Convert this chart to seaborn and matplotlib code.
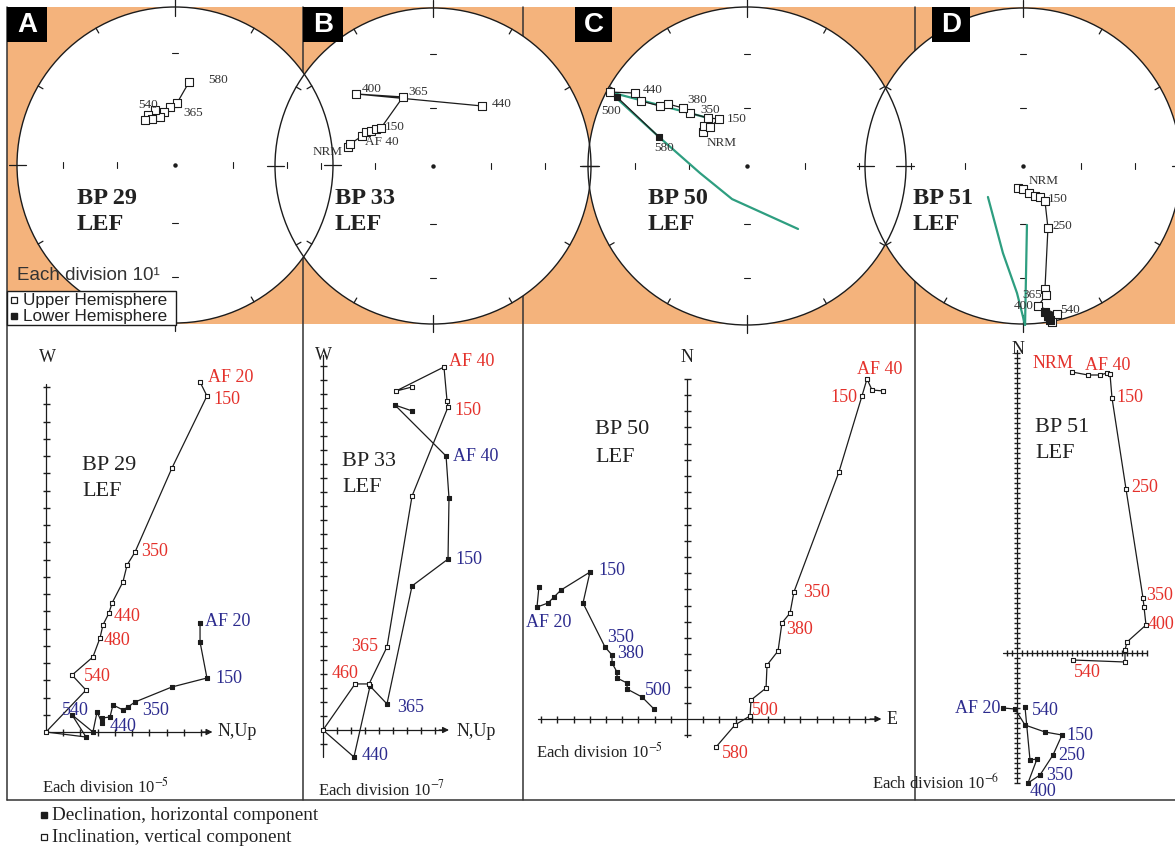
import numpy as np
import pandas as pd
import matplotlib
matplotlib.use("Agg")
import matplotlib.pyplot as plt
import seaborn as sns
from matplotlib.patches import Circle, Rectangle

# ---------------------------------------------------------------- DATA
# Stereonets (equal-area projection), coordinates in units of net radius (east, north)
netA_x = [0.089, 0.013, -0.032, -0.070, -0.095, -0.127, -0.171, -0.146, -0.190]
netA_y = [0.525, 0.392, 0.367, 0.335, 0.304, 0.348, 0.316, 0.291, 0.285]
netA_lab = ["580", "365", "", "", "", "540", "", "", ""]

netB_x = [-0.538, -0.525, -0.449, -0.424, -0.392, -0.361, -0.329, -0.190, -0.487, 0.310]
netB_y = [0.120, 0.139, 0.190, 0.215, 0.222, 0.234, 0.241, 0.437, 0.456, 0.380]
netB_lab = ["NRM", "", "AF 40", "", "", "", "150", "365", "400", "440"]

netC_up_x = [-0.277, -0.270, -0.233, -0.176, -0.245, -0.358, -0.403, -0.497, -0.547, -0.667, -0.704, -0.862]
netC_up_y = [0.214, 0.252, 0.245, 0.296, 0.302, 0.333, 0.365, 0.390, 0.377, 0.409, 0.459, 0.465]
netC_up_lab = ["NRM", "", "", "150", "350", "", "380", "", "", "", "440", "500"]
netC_lo_x = [-0.818, -0.553]
netC_lo_y = [0.434, 0.182]
netC_lo_lab = ["", "580"]
netC_g1_x = [-0.862, -0.245]
netC_g1_y = [0.465, 0.302]
netC_g2_x = [-0.862, -0.553, -0.296, -0.094, 0.321]
netC_g2_y = [0.465, 0.182, -0.044, -0.208, -0.396]

netD_up_x = [-0.032, 0.000, 0.038, 0.076, 0.108, 0.139, 0.158, 0.139, 0.146, 0.095, 0.215, 0.184]
netD_up_y = [-0.139, -0.146, -0.171, -0.190, -0.196, -0.222, -0.392, -0.778, -0.816, -0.886, -0.937, -0.987]
netD_up_lab = ["NRM", "", "", "", "", "150", "250", "365", "", "400", "540", ""]
netD_lo_x = [0.139, 0.158, 0.171]
netD_lo_y = [-0.924, -0.949, -0.975]
netD_g1_x = [-0.222, -0.127, -0.038, 0.013]
netD_g1_y = [-0.196, -0.551, -0.804, -1.006]
netD_g2_x = [0.025, 0.013]
netD_g2_y = [-0.373, -1.006]

# Zijderveld diagrams, in divisions
A_open_x = [8.93, 9.33, 7.30, 5.16, 4.70, 4.46, 3.83, 3.65, 3.30, 3.13, 2.72, 1.51, 2.32, 0.00]
A_open_y = [20.29, 19.48, 15.30, 10.43, 9.68, 8.70, 7.48, 6.90, 6.20, 5.45, 4.35, 3.30, 2.43, 0.00]
A_open_lab = ["AF 20", "150", "", "350", "", "", "", "440", "", "480", "", "540", "", ""]
A_fill_x = [8.93, 8.93, 9.33, 7.30, 5.16, 4.75, 4.46, 3.88, 3.71, 3.25, 3.25, 2.96, 2.72, 1.51, 2.32, 0.00]
A_fill_y = [6.32, 5.22, 3.13, 2.61, 1.74, 1.45, 1.28, 1.57, 0.87, 0.81, 0.52, 1.16, 0.00, 0.99, -0.29, 0.00]
A_fill_lab = ["AF 20", "", "150", "", "", "350", "", "", "", "", "440", "", "", "540", "", ""]

B_open_x = [6.36, 5.21, 8.64, 8.86, 8.93, 6.36, 4.57, 3.29, 2.29, 0.00]
B_open_y = [24.50, 24.21, 25.93, 23.50, 23.07, 16.71, 5.93, 3.29, 3.29, 0.00]
B_open_lab = ["", "", "AF 40", "", "150", "", "365", "", "460", ""]
B_fill_x = [6.36, 5.14, 8.79, 9.00, 8.93, 6.36, 4.57, 3.36, 2.21, 0.00]
B_fill_y = [22.79, 23.21, 19.57, 16.57, 12.21, 10.29, 1.86, 3.14, -1.93, 0.00]
B_fill_lab = ["", "", "AF 40", "", "150", "", "365", "", "440", ""]

C_open_x = [12.10, 11.42, 11.11, 10.80, 9.38, 6.60, 6.36, 5.86, 5.62, 4.94, 4.88, 3.95, 3.89, 2.96, 1.79]
C_open_y = [20.25, 20.31, 20.99, 19.94, 15.25, 7.84, 6.54, 5.93, 4.20, 3.33, 1.91, 1.17, 0.19, -0.37, -1.73]
C_open_lab = ["", "", "AF 40", "150", "", "350", "", "380", "", "", "", "", "500", "", "580"]
C_fill_x = [-9.14, -9.26, -8.58, -8.21, -7.78, -5.99, -6.42, -5.06, -4.63, -4.63, -4.32, -4.32, -3.70, -3.70, -2.78, -2.04]
C_fill_y = [8.15, 6.91, 7.16, 7.53, 7.96, 9.07, 7.16, 4.44, 3.95, 3.46, 2.90, 2.53, 2.22, 1.85, 1.36, 0.62]
C_fill_lab = ["", "AF 20", "", "", "", "150", "", "350", "", "380", "", "", "", "", "500", ""]

D_open_x = [11.0, 14.2, 16.6, 18.0, 18.6, 19.0, 21.8, 25.2, 25.4, 25.8, 22.0, 21.6, 21.6, 11.2]
D_open_y = [56.2, 55.6, 55.6, 56.0, 55.8, 51.0, 32.8, 11.0, 9.2, 5.6, 2.2, 0.6, -1.8, -1.4]
D_open_lab = ["NRM", "", "", "AF 40", "", "150", "250", "350", "", "400", "", "", "", "540"]
D_fill_x = [-2.8, -0.4, 1.6, 5.6, 9.0, 7.2, 4.6, 2.2, 4.0, 2.6, 1.6]
D_fill_y = [-11.0, -11.2, -14.4, -15.8, -16.4, -20.4, -24.4, -26.0, -21.2, -21.4, -10.8]
D_fill_lab = ["AF 20", "", "", "", "150", "250", "350", "400", "", "", "540"]

panel_letters = ["A", "B", "C", "D"]
sample_names = ["BP 29", "BP 33", "BP 50", "BP 51"]
site_name = "LEF"
division_exp = ["-5", "-7", "-5", "-6"]

# ---------------------------------------------------------------- STYLE / LAYOUT
sns.set_theme(style="white")
plt.rcParams["font.family"] = ["Liberation Serif", "DejaVu Serif"]
plt.rcParams["mathtext.fontset"] = "stix"

W, H = 1175, 848
ORANGE = "#F4B37C"
RED = "#E4312B"
BLUE = "#2C2B8E"
GREEN = "#2E9E80"
INK = "#1c1c1c"
SANS = ["Liberation Sans", "DejaVu Sans"]

fig = plt.figure(figsize=(W / 100, H / 100), dpi=100)


def px_rect(x0, y0, x1, y1):
    return [x0 / W, 1 - y1 / H, (x1 - x0) / W, (y1 - y0) / H]


def pixel_axes(z):
    ax = fig.add_axes([0, 0, 1, 1], zorder=z)
    ax.set_xlim(0, W)
    ax.set_ylim(H, 0)
    ax.axis("off")
    return ax


def path(ax, x, y, color=INK, lw=0.9, z=3):
    sns.lineplot(x=x, y=y, sort=False, estimator=None, color=color, linewidth=lw,
                 ax=ax, legend=False, zorder=z, clip_on=False)


def squares(ax, x, y, filled, s):
    sns.scatterplot(x=x, y=y, marker="s", s=s, color=INK if filled else "white",
                    edgecolor=INK, linewidth=0.8, ax=ax, legend=False, zorder=4, clip_on=False)


def labels(ax, x, y, labs, offs, color, size):
    for i, t in enumerate(labs):
        if t:
            dx, dy, ha = offs[i]
            ax.annotate(t, xy=(x[i], y[i]), xytext=(dx, dy), textcoords="offset pixels",
                        ha=ha, va="center", fontsize=size, color=color, zorder=5,
                        annotation_clip=False)


# ---------------- background layer
bg = pixel_axes(0)
bg.add_patch(Rectangle((7, 7), W - 7, 317, facecolor=ORANGE, edgecolor="none"))
for xs in [303, 523, 915]:
    bg.plot([xs, xs], [7, 800], color="#333333", lw=1.1)
bg.plot([7, 7], [7, 800], color="#333333", lw=1.1)
bg.plot([7, W], [800, 800], color="#333333", lw=1.1)

# bottom legend
bg.plot([44], [815], marker="s", ms=4.5, color=INK, mec=INK)
bg.plot([44], [837], marker="s", ms=4.5, color="white", mec=INK, mew=0.9)
bg.text(52, 815, "Declination, horizontal component", fontsize=13.8, va="center", color="#222")
bg.text(52, 837, "Inclination, vertical component", fontsize=13.8, va="center", color="#222")

# ---------------- stereonets
NET_LAYOUT = [(175, 165, 158), (433, 166, 158), (747, 166, 159), (1023, 166, 158)]
for cx, cy, R in NET_LAYOUT:
    fa = fig.add_axes(px_rect(cx - R, cy - R, cx + R, cy + R), zorder=1)
    fa.set_xlim(-1, 1)
    fa.set_ylim(-1, 1)
    fa.axis("off")
    fa.add_patch(Circle((0, 0), 1, facecolor="white", edgecolor="none", clip_on=False))

net_axes = []
for cx, cy, R in NET_LAYOUT:
    na = fig.add_axes(px_rect(cx - R, cy - R, cx + R, cy + R), zorder=2)
    na.axis("off")
    na.add_patch(Circle((0, 0), 1, fill=False, edgecolor=INK, lw=1.0, clip_on=False))
    for az in range(0, 360, 30):
        a = np.radians(az)
        r0, r1 = (0.94, 1.05) if az % 90 == 0 else (0.965, 1.0)
        na.plot([r0 * np.sin(a), r1 * np.sin(a)], [r0 * np.cos(a), r1 * np.cos(a)],
                color=INK, lw=0.9, clip_on=False)
    for r in [-0.707, -0.366, 0.366, 0.707]:
        na.plot([r, r], [-0.018, 0.018], color=INK, lw=0.8)
        na.plot([-0.022, 0.022], [r, r], color=INK, lw=0.8)
    na.plot([0], [0], marker="o", ms=2.2, color=INK)
    net_axes.append(na)

NS = 26   # stereonet marker area
NF = 9.5  # stereonet label size

ax = net_axes[0]
path(ax, netA_x, netA_y)
squares(ax, netA_x, netA_y, False, NS)
labels(ax, netA_x, netA_y, netA_lab,
       {0: (19, 2, "left"), 1: (6, -10, "left"), 5: (-17, 5, "left")}, "#333", NF)

ax = net_axes[1]
path(ax, netB_x, netB_y)
squares(ax, netB_x, netB_y, False, NS)
labels(ax, netB_x, netB_y, netB_lab,
       {0: (-5, -5, "right"), 2: (3, -6, "left"), 6: (4, 1, "left"), 7: (5, 5, "left"),
        8: (6, 5, "left"), 9: (10, 2, "left")}, "#333", NF)

ax = net_axes[2]
path(ax, netC_g1_x, netC_g1_y, color=GREEN, lw=1.6, z=2)
path(ax, netC_g2_x, netC_g2_y, color=GREEN, lw=1.6, z=2)
path(ax, netC_up_x, netC_up_y)
path(ax, [netC_up_x[-1]] + netC_lo_x, [netC_up_y[-1]] + netC_lo_y)
squares(ax, netC_up_x, netC_up_y, False, NS)
squares(ax, netC_lo_x, netC_lo_y, True, NS * 0.8)
labels(ax, netC_up_x, netC_up_y, netC_up_lab,
       {0: (4, -11, "left"), 3: (8, 0, "left"), 4: (-8, 8, "left"), 6: (4, 8, "left"),
        10: (8, 3, "left"), 11: (-9, -19, "left")}, "#333", NF)
labels(ax, netC_lo_x, netC_lo_y, netC_lo_lab, {1: (-5, -11, "left")}, "#333", NF)

ax = net_axes[3]
path(ax, netD_g1_x, netD_g1_y, color=GREEN, lw=1.6, z=2)
path(ax, netD_g2_x, netD_g2_y, color=GREEN, lw=1.6, z=2)
path(ax, netD_up_x, netD_up_y)
squares(ax, netD_up_x, netD_up_y, False, NS)
squares(ax, netD_lo_x, netD_lo_y, True, NS)
labels(ax, netD_up_x, netD_up_y, netD_up_lab,
       {0: (11, 7, "left"), 5: (3, 2, "left"), 6: (4, 2, "left"), 7: (-3, -6, "right"),
        9: (-4, 0, "right"), 10: (3, 4, "left")}, "#333", NF)

for na in net_axes:
    na.set_xlim(-1, 1)
    na.set_ylim(-1, 1)

# ---------------- overlay (panel letters, net titles, hemisphere legend)
ov = pixel_axes(3)
letter_boxes = [(7, 47), (303, 343), (575, 612), (932, 970)]
for (x0, x1), L in zip(letter_boxes, panel_letters):
    ov.add_patch(Rectangle((x0, 7), x1 - x0, 35, facecolor="black", edgecolor="none"))
    ov.text((x0 + x1) / 2, 25, L, color="white", fontsize=20, fontweight="bold",
            family=SANS, ha="center", va="center")
for xl, name in zip([77, 335, 648, 913], sample_names):
    ov.text(xl, 199, name, fontsize=17.5, fontweight="bold", va="center", color="#222")
    ov.text(xl, 224, site_name, fontsize=17.5, fontweight="bold", va="center", color="#222")
ov.text(17, 276, "Each division 10\u00b9", fontsize=13.5, family=SANS, va="center", color="#333")
ov.add_patch(Rectangle((7, 291), 169, 34, facecolor="white", edgecolor=INK, lw=1.0))
ov.plot([14], [300], marker="s", ms=4.2, color="white", mec=INK, mew=0.9)
ov.plot([14], [316], marker="s", ms=4.2, color=INK, mec=INK)
ov.text(23, 300, "Upper Hemisphere", fontsize=12.3, family=SANS, va="center", color="#222")
ov.text(23, 316, "Lower Hemisphere", fontsize=12.3, family=SANS, va="center", color="#222")

# ---------------- Zijderveld diagrams
ZIJ_LAYOUT = [
    dict(box=(8, 326, 302, 799), origin=(46, 732), scale=17.25, hx=(0, 9.3), tip=9.65, vy=(0, 20.2), tick=7),
    dict(box=(304, 326, 522, 799), origin=(323, 730), scale=14.0, hx=(0, 8.6), tip=9.0, vy=(-1.93, 26.8), tick=7),
    dict(box=(524, 326, 914, 799), origin=(687, 719), scale=16.2, hx=(-9.2, 11.6), tip=12.0, vy=(-1.1, 21.0), tick=7),
    dict(box=(916, 326, 1175, 799), origin=(1017, 653), scale=5.0, hx=(-2.8, 26.0), tip=None, vy=(-26.0, 60.6), tick=6),
]
ZS = 10
ZF = 13

zaxes = []
for L in ZIJ_LAYOUT:
    x0, y0, x1, y1 = L["box"]
    za = fig.add_axes(px_rect(x0, y0, x1, y1), zorder=2)
    za.axis("off")
    ox, oy = L["origin"]
    s = L["scale"]
    L["xlim"] = ((x0 - ox) / s, (x1 - ox) / s)
    L["ylim"] = ((oy - y1) / s, (oy - y0) / s)
    hx, vy = L["hx"], L["vy"]
    za.plot(hx, [0, 0], color=INK, lw=0.9)
    za.plot([0, 0], vy, color=INK, lw=0.9)
    xt = [i for i in range(int(np.ceil(hx[0])), int(np.floor(hx[1])) + 1) if i != 0]
    yt = [i for i in range(int(np.ceil(vy[0])), int(np.floor(vy[1])) + 1) if i != 0]
    za.plot(xt, np.zeros(len(xt)), ls="none", marker="|", ms=L["tick"] * 0.72, mew=1.0, color=INK)
    za.plot(np.zeros(len(yt)), yt, ls="none", marker="_", ms=L["tick"] * 0.72, mew=1.0, color=INK)
    if L["tip"] is not None:
        za.annotate("", xy=(L["tip"], 0), xytext=(hx[1] - 0.3, 0),
                    arrowprops=dict(arrowstyle="-|>", color=INK, lw=0.9, mutation_scale=9,
                                    shrinkA=0, shrinkB=0))
    zaxes.append(za)

# A
za = zaxes[0]
path(za, A_open_x, A_open_y)
path(za, A_fill_x, A_fill_y)
squares(za, A_fill_x[:-1], A_fill_y[:-1], True, ZS)
squares(za, A_open_x, A_open_y, False, ZS)
labels(za, A_open_x, A_open_y, A_open_lab,
       {0: (8, 4, "left"), 1: (6, -4, "left"), 3: (6, 1, "left"), 7: (5, -4, "left"),
        9: (4, -3, "left"), 11: (12, -1, "left")}, RED, ZF)
labels(za, A_fill_x, A_fill_y, A_fill_lab,
       {0: (5, 1, "left"), 2: (8, 0, "left"), 5: (14, -4, "left"), 10: (8, -3, "left"),
        13: (-10, 4, "left")}, BLUE, ZF)

# B
za = zaxes[1]
path(za, B_open_x, B_open_y)
path(za, B_fill_x, B_fill_y)
squares(za, B_fill_x[:-1], B_fill_y[:-1], True, ZS)
squares(za, B_open_x, B_open_y, False, ZS)
labels(za, B_open_x, B_open_y, B_open_lab,
       {2: (5, 5, "left"), 4: (6, -3, "left"), 6: (-9, 0, "right"), 8: (3, 10, "right")}, RED, ZF)
labels(za, B_fill_x, B_fill_y, B_fill_lab,
       {2: (7, 0, "left"), 4: (7, 0, "left"), 6: (10, -4, "left"), 8: (8, 2, "left")}, BLUE, ZF)

# C
za = zaxes[2]
path(za, C_open_x, C_open_y)
path(za, C_fill_x, C_fill_y)
squares(za, C_fill_x, C_fill_y, True, ZS)
squares(za, C_open_x, C_open_y, False, ZS)
labels(za, C_open_x, C_open_y, C_open_lab,
       {2: (13, 9, "center"), 3: (-5, -2, "right"), 5: (9, -1, "left"), 7: (4, -7, "left"),
        12: (2, 5, "left"), 14: (6, -6, "left")}, RED, ZF)
labels(za, C_fill_x, C_fill_y, C_fill_lab,
       {1: (-11, -15, "left"), 5: (8, 2, "left"), 7: (2, 10, "left"), 9: (5, 9, "left"),
        14: (3, 6, "left")}, BLUE, ZF)

# D
za = zaxes[3]
path(za, D_open_x, D_open_y)
path(za, D_fill_x, D_fill_y)
squares(za, D_fill_x, D_fill_y, True, ZS * 0.8)
squares(za, D_open_x, D_open_y, False, ZS * 0.8)
labels(za, D_open_x, D_open_y, D_open_lab,
       {0: (1, 9, "right"), 3: (1, 8, "center"), 5: (4, 1, "left"), 6: (5, 2, "left"),
        7: (3, 3, "left"), 9: (2, 1, "left"), 13: (14, -12, "center")}, RED, ZF)
labels(za, D_fill_x, D_fill_y, D_fill_lab,
       {0: (-3, 0, "right"), 4: (4, 0, "left"), 5: (5, 0, "left"), 6: (6, 0, "left"),
        7: (2, -8, "left"), 10: (7, -3, "left")}, BLUE, ZF)

for za, L in zip(zaxes, ZIJ_LAYOUT):
    za.set_xlim(*L["xlim"])
    za.set_ylim(*L["ylim"])

# Zijderveld texts (pixel layer)
bg.text(47, 358, "W", fontsize=13, ha="center", va="center", color="#222")
bg.text(218, 731, "N,Up", fontsize=13, va="center", color="#222")
bg.text(323, 356, "W", fontsize=13, ha="center", va="center", color="#222")
bg.text(457, 731, "N,Up", fontsize=13, va="center", color="#222")
bg.text(687, 358, "N", fontsize=13, ha="center", va="center", color="#222")
bg.text(887, 719, "E", fontsize=13, va="center", color="#222")
bg.text(1018, 349, "N", fontsize=13, ha="center", va="center", color="#222")

for (xl, y1, y2), name in zip([(82, 465, 492), (342, 462, 487), (595, 430, 458), (1035, 427, 453)],
                              sample_names):
    bg.text(xl, y1, name, fontsize=16, va="center", color="#222")
    bg.text(xl, y2, site_name, fontsize=16, va="center", color="#222")

for (xl, yy), e in zip([(42, 787), (318, 789), (536, 752), (872, 783)], division_exp):
    bg.text(xl, yy, "Each division 10$^{%s}$" % e, fontsize=12, va="center", color="#222")

fig.savefig("out.png", dpi=100)
